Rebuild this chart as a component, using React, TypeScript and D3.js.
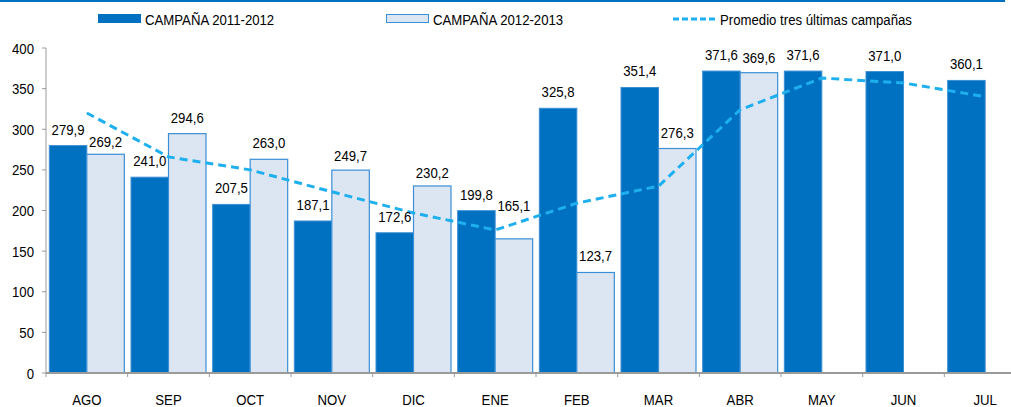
import React from "react";
import * as d3 from "d3";

const categories = ["AGO", "SEP", "OCT", "NOV", "DIC", "ENE", "FEB", "MAR", "ABR", "MAY", "JUN", "JUL"];
const campaign1112 = [279.9, 241.0, 207.5, 187.1, 172.6, 199.8, 325.8, 351.4, 371.6, 371.6, 371.0, 360.1];
const campaign1213: (number | null)[] = [269.2, 294.6, 263.0, 249.7, 230.2, 165.1, 123.7, 276.3, 369.6, null, null, null];
const average3 = [320, 266, 250, 223, 197, 176, 209, 230, 324, 363, 357, 340];
const yTicks = [0, 50, 100, 150, 200, 250, 300, 350, 400];
const legendLabels = ["CAMPAÑA 2011-2012", "CAMPAÑA 2012-2013", "Promedio tres últimas campañas"];
// label placement nudges (px) for the 2012-2013 value labels
const label2Nudge = [4, 0, 0, 2, 3, -17, 0, 0, 1, 0, 0, 0];

const W = 1011, H = 407;
const left = 46, right = 1026, top = 48, bottom = 373;
const DARK = "#0070C0";
const LIGHT = "#DCE6F2";
const LIGHT_BORDER = "#3B8FD6";
const LINE = "#1EB0EE";
const FONT = "'Liberation Sans', Arial, sans-serif";
const SX = 0.88;

const fmt = (v: number) => v.toFixed(1).replace(".", ",");

function T({ x, y, anchor = "start", size = 15, children }: { x: number; y: number; anchor?: string; size?: number; children: React.ReactNode }) {
  return (
    <text transform={`translate(${x},${y}) scale(${SX},1)`} textAnchor={anchor as any} fontSize={size} fill="#000">
      {children}
    </text>
  );
}

export default function App() {
  const x = d3.scaleBand<string>().domain(categories).range([left, right]).paddingInner(0).paddingOuter(0);
  const y = d3.scaleLinear().domain([0, 400]).range([bottom, top]);
  const bw = 37.5;
  const line = d3
    .line<number>()
    .x((_, i) => (x(categories[i]) as number) + x.bandwidth() / 2)
    .y((d) => y(d));

  return (
    <svg width={W} height={H} style={{ position: "absolute", left: 0, top: 0, fontFamily: FONT }}>
      <rect x={0} y={0} width={W} height={H} fill="#fff" />
      <line x1={0} x2={1005} y1={1} y2={1} stroke={DARK} strokeWidth={2} />
      {/* legend */}
      <rect x={98} y={14} width={43} height={9} fill={DARK} />
      <T x={145} y={24.5} size={15}>{legendLabels[0]}</T>
      <rect x={386.5} y={14.5} width={42} height={8} fill={LIGHT} stroke={LIGHT_BORDER} strokeWidth={1} />
      <T x={433} y={24.5} size={15}>{legendLabels[1]}</T>
      <line x1={673} x2={715} y1={19} y2={19} stroke={LINE} strokeWidth={3} strokeDasharray="6,3" />
      <T x={720} y={24.5} size={15}>{legendLabels[2]}</T>
      {/* y axis */}
      <line x1={left} x2={left} y1={top} y2={bottom} stroke="#9a9a9a" strokeWidth={1} />
      {yTicks.map((t) => (
        <g key={t}>
          <line x1={left - 4} x2={left} y1={y(t)} y2={y(t)} stroke="#9a9a9a" />
          <T x={34} y={y(t) + 5.5} anchor="end" size={15}>
            {t}
          </T>
        </g>
      ))}
      {/* bars */}
      {categories.map((c, i) => {
        const bx = (x(c) as number) + x.bandwidth() / 2 - bw;
        const v1 = campaign1112[i];
        const v2 = campaign1213[i];
        return (
          <g key={c}>
            <rect x={bx} y={y(v1)} width={bw} height={bottom - y(v1)} fill={DARK} stroke="#3d8fd4" strokeWidth={1} />
            {v2 != null && (
              <rect x={bx + bw} y={y(v2)} width={bw} height={bottom - y(v2)} fill={LIGHT} stroke={LIGHT_BORDER} strokeWidth={1.2} />
            )}
          </g>
        );
      })}
      {/* x axis */}
      <line x1={left} x2={W} y1={bottom} y2={bottom} stroke="#9a9a9a" strokeWidth={2} />
      {categories.map((c) => (
        <g key={c}>
          <line x1={x(c) as number} x2={x(c) as number} y1={bottom} y2={bottom + 4} stroke="#9a9a9a" />
          <T x={(x(c) as number) + x.bandwidth() / 2} y={405} anchor="middle" size={15}>
            {c}
          </T>
        </g>
      ))}
      {/* line */}
      <path d={line(average3) || ""} fill="none" stroke={LINE} strokeWidth={3} strokeDasharray="8,5" />
      {/* labels */}
      {categories.map((c, i) => {
        const cx = (x(c) as number) + x.bandwidth() / 2;
        const v1 = campaign1112[i];
        const v2 = campaign1213[i];
        return (
          <g key={c + "l"}>
            <T x={cx - bw / 2} y={y(v1) - 11} anchor="middle" size={15}>{fmt(v1)}</T>
            {v2 != null && (
              <T x={cx + bw / 2} y={y(v2) - 11 + label2Nudge[i]} anchor="middle" size={15}>
                {fmt(v2)}
              </T>
            )}
          </g>
        );
      })}
    </svg>
  );
}
